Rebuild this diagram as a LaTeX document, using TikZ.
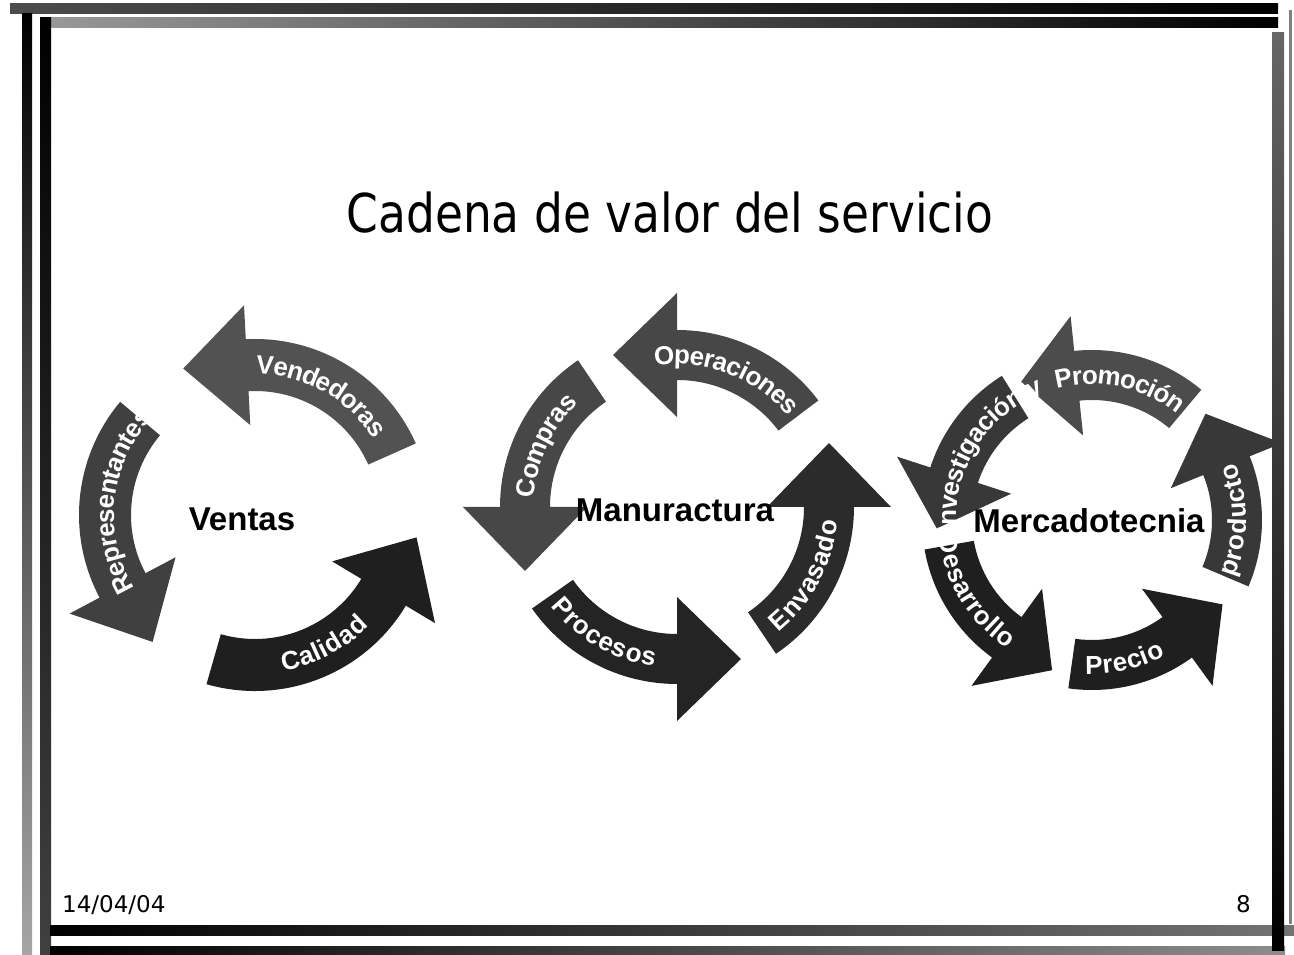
\documentclass[tikz,border=0pt]{standalone}
\usepackage{fontspec}
\setmainfont{Liberation Sans}
\newfontfamily\slidefont{DejaVu Sans}
\usepackage{tikz}
\usetikzlibrary{calc}
\usetikzlibrary{decorations.text}

\newcommand{\arrowfont}{\fontsize{26}{26}\selectfont\bfseries}

% radius, half band, half head, head length
\newcommand{\setcycle}[4]{%
  \pgfmathsetmacro\cycR{#1}%
  \pgfmathsetmacro\cycRo{#1+#2}%
  \pgfmathsetmacro\cycRi{#1-#2}%
  \pgfmathsetmacro\cycHo{#1+#3}%
  \pgfmathsetmacro\cycHi{#1-#3}%
  \pgfmathsetmacro\cycHl{#4}}

% centre, tail angle, head angle, colour, text, text arc from, to
\newcommand{\cycarrow}[7]{%
  \fill[#4] ($(#1)+({#2}:\cycRo)$) arc[start angle=#2, end angle=#3, radius=\cycRo]
    -- ($(#1)+({#3}:\cycHo)$) -- ($(#1)+({#3}:\cycR)+({#3+90}:\cycHl)$)
    -- ($(#1)+({#3}:\cycHi)$) -- ($(#1)+({#3}:\cycRi)$)
    arc[start angle=#3, end angle=#2, radius=\cycRi] -- cycle;
  \path[decorate, decoration={text along path, text={|\arrowfont|#5},
      text align=center, text color=white, raise=-9pt}]
    ($(#1)+({#6}:\cycR)$) arc[start angle=#6, end angle=#7, radius=\cycR];
}

\begin{document}
\begin{tikzpicture}[x=1pt, y=1pt,
        hub/.style={inner sep=0pt, font=\fontsize{33}{33}\selectfont\bfseries},
        slidetext/.style={inner sep=0pt, font=\slidefont\fontsize{23}{23}\selectfont}]
    \useasboundingbox (0,0) rectangle (1294,954);

    % frame
    \shade[left color=black!70, right color=black] (10,940) rectangle (1278,950);
    \shade[left color=black!40, right color=black] (40,926) rectangle (1278,936);
    \shade[top color=black, bottom color=black!35] (22,0) rectangle (32,940);
    \shade[top color=black, bottom color=black!75] (40,0) rectangle (51,936);
    \shade[left color=black, right color=black!55] (50,19) rectangle (1294,29);
    \shade[left color=black, right color=black!45] (50,0) rectangle (1285,8);
    \shade[top color=black!60, bottom color=black] (1272,4) rectangle (1284,921);
    \fill[black!50] (1289,30) rectangle (1292,944);

    \node[anchor=base, font=\slidefont\fontsize{53.5}{54}\selectfont, xscale=0.85] (title) at (670,721) {Cadena de valor del servicio};

    \coordinate (cv) at (255,439);
    \coordinate (cm) at (677,447);
    \coordinate (ck) at (1092,434);

    % Ventas
    \begin{scope}
        \setcycle{150}{26}{60}{64}
        \cycarrow{cv}{24}{93}{black!68}{Vendedoras}{98}{24}
        \cycarrow{cv}{140}{208}{black!75}{Representantes}{232}{116}
        \cycarrow{cv}{254}{329}{black!88}{Calidad}{256}{340}
    \end{scope}

    % Manuractura
    \begin{scope}
        \setcycle{152}{25}{62}{64}
        \cycarrow{cm}{37}{90}{black!72}{Operaciones}{111}{27}
        \cycarrow{cm}{124}{180}{black!72}{Compras}{187}{123}
        \cycarrow{cm}{215}{270}{black!86}{Procesos}{203}{277}
        \cycarrow{cm}{304}{360}{black!83}{Envasado}{295}{369}
    \end{scope}

    % Mercadotecnia
    \begin{scope}
        \setcycle{145}{25}{60}{56}
        \cycarrow{ck}{50}{96}{black!70}{Promoción}{115}{41}
        \cycarrow{ck}{122}{162}{black!78}{Investigación y}{192}{104}
        \cycarrow{ck}{190}{234}{black!88}{Desarrollo}{178}{245}
        \cycarrow{ck}{262}{306}{black!88}{Precio}{248}{318}
        \cycarrow{ck}{337}{382}{black!78}{producto}{322}{398}
    \end{scope}

    \node[hub] (ventas) at (242,435) {Ventas};
    \node[hub] (manu) at (675,444) {Manuractura};
    \node[hub] (merca) at (1089,433) {Mercadotecnia};

    \node[slidetext, anchor=base west] (date) at (62,42) {14/04/04};
    \node[slidetext, anchor=base east] (page) at (1251,42) {8};
\end{tikzpicture}
\end{document}
